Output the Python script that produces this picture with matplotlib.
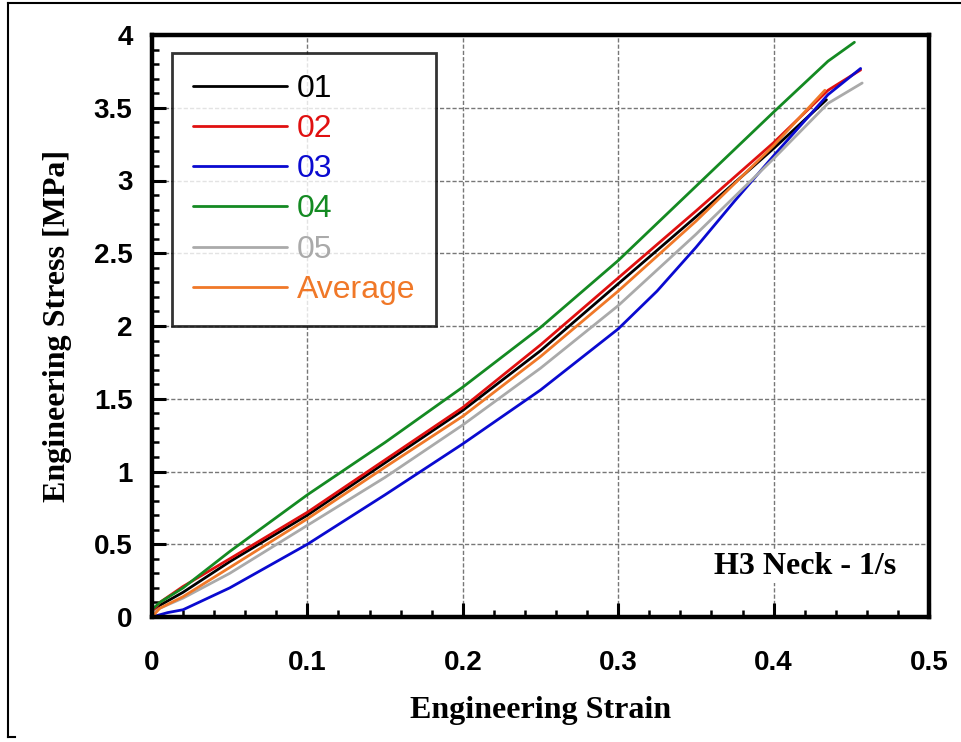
import numpy as np
import matplotlib
matplotlib.use("Agg")
import matplotlib.pyplot as plt
from matplotlib.lines import Line2D
from matplotlib.ticker import MultipleLocator

# ---------------------------------------------------------------------------
# Tensile test data (engineering strain vs engineering stress in MPa)
# ---------------------------------------------------------------------------
strain_01 = [0, 0.005, 0.02, 0.05, 0.10, 0.15, 0.20, 0.25, 0.30, 0.35, 0.40, 0.434]
stress_01 = [0.02, 0.08, 0.17, 0.38, 0.70, 1.06, 1.42, 1.83, 2.29, 2.75, 3.22, 3.555]

strain_02 = [0, 0.005, 0.02, 0.05, 0.10, 0.15, 0.20, 0.25, 0.30, 0.35, 0.40, 0.435, 0.456]
stress_02 = [0.03, 0.10, 0.21, 0.40, 0.72, 1.08, 1.44, 1.87, 2.33, 2.79, 3.26, 3.62, 3.76]

strain_03 = [0, 0.01, 0.02, 0.05, 0.10, 0.15, 0.20, 0.25, 0.30, 0.325, 0.35, 0.375, 0.40, 0.435, 0.456]
stress_03 = [0.0, 0.03, 0.05, 0.20, 0.50, 0.84, 1.19, 1.56, 1.98, 2.24, 2.54, 2.86, 3.17, 3.59, 3.77]

strain_04 = [0, 0.005, 0.02, 0.05, 0.10, 0.15, 0.20, 0.25, 0.30, 0.35, 0.40, 0.435, 0.452]
stress_04 = [0.05, 0.10, 0.20, 0.45, 0.84, 1.20, 1.58, 1.99, 2.45, 2.96, 3.47, 3.82, 3.95]

strain_05 = [0, 0.005, 0.02, 0.05, 0.10, 0.15, 0.20, 0.25, 0.30, 0.35, 0.40, 0.435, 0.457]
stress_05 = [0.02, 0.06, 0.13, 0.30, 0.63, 0.96, 1.32, 1.71, 2.14, 2.63, 3.15, 3.53, 3.67]

strain_avg = [0, 0.005, 0.02, 0.05, 0.10, 0.15, 0.20, 0.25, 0.30, 0.35, 0.40, 0.433]
stress_avg = [0.0, 0.06, 0.14, 0.34, 0.675, 1.03, 1.38, 1.79, 2.24, 2.72, 3.24, 3.62]

labels = ["01", "02", "03", "04", "05", "Average"]
colors = ["#000000", "#e01010", "#0a0ad0", "#148a22", "#aaaaaa", "#f07828"]
series = [
    (strain_01, stress_01),
    (strain_02, stress_02),
    (strain_03, stress_03),
    (strain_04, stress_04),
    (strain_05, stress_05),
    (strain_avg, stress_avg),
]

xticks = [0, 0.1, 0.2, 0.3, 0.4, 0.5]
xtick_labels = ["0", "0.1", "0.2", "0.3", "0.4", "0.5"]
yticks = [0, 0.5, 1, 1.5, 2, 2.5, 3, 3.5, 4]
ytick_labels = ["0", "0.5", "1", "1.5", "2", "2.5", "3", "3.5", "4"]

fig = plt.figure(figsize=(9.62, 7.42), dpi=100)
ax = fig.add_axes([152 / 962, 1 - 617 / 742, 777 / 962, 582 / 742])

for (x, y), lab, c in zip(series, labels, colors):
    ax.plot(x, y, color=c, lw=2.0, label=lab, solid_capstyle="round",
            solid_joinstyle="round")

ax.set_xlim(0, 0.5)
ax.set_ylim(0, 4)
ax.set_xticks(xticks)
ax.set_xticklabels(xtick_labels)
ax.set_yticks(yticks)
ax.set_yticklabels(ytick_labels)
ax.xaxis.set_minor_locator(MultipleLocator(0.02))
ax.yaxis.set_minor_locator(MultipleLocator(0.1))

ax.grid(True, which="major", color="#777777", lw=1.0, linestyle=(0, (3, 1.5)))
ax.set_axisbelow(True)

ax.tick_params(which="both", direction="in", top=False, right=False)
ax.tick_params(which="major", length=10, width=2.2)
ax.tick_params(which="minor", length=5, width=1.8)
ax.tick_params(axis="x", which="major", pad=24)
ax.tick_params(axis="y", which="major", pad=14)
for t in ax.get_xticklabels() + ax.get_yticklabels():
    t.set_fontfamily("Liberation Sans")
    t.set_fontweight("bold")
    t.set_fontsize(20)

for s in ax.spines.values():
    s.set_linewidth(3.2)

serif = dict(family="Liberation Serif", weight="bold", size=23)
ax.set_xlabel("Engineering Strain", labelpad=14, **serif)
ax.set_ylabel("Engineering Stress [MPa]", labelpad=16, **serif)

ax.text(0.42, 0.35, "H3 Neck - 1/s", ha="center", va="center",
        bbox=dict(facecolor="white", edgecolor="none", pad=2), **serif)

leg = ax.legend(loc="upper left", bbox_to_anchor=(0.026, 0.969), borderaxespad=0,
                prop={"family": "Liberation Sans", "size": 23},
                handlelength=2.95, handletextpad=0.3, labelspacing=0.32,
                borderpad=0.65, fancybox=False, frameon=True)
leg.get_frame().set_edgecolor("black")
leg.get_frame().set_linewidth(2.0)
for txt, c in zip(leg.get_texts(), colors):
    txt.set_color(c)

# thin frame around the page
fig.add_artist(Line2D([8 / 962, 8 / 962], [1 - 3 / 742, 1 - 737 / 742],
                      transform=fig.transFigure, color="black", lw=1.5))
fig.add_artist(Line2D([8 / 962, 1.0], [1 - 3 / 742, 1 - 3 / 742],
                      transform=fig.transFigure, color="black", lw=1.5))
fig.add_artist(Line2D([8 / 962, 15 / 962], [1 - 737 / 742, 1 - 737 / 742],
                      transform=fig.transFigure, color="black", lw=1.5))

fig.savefig("out.png", dpi=100)
